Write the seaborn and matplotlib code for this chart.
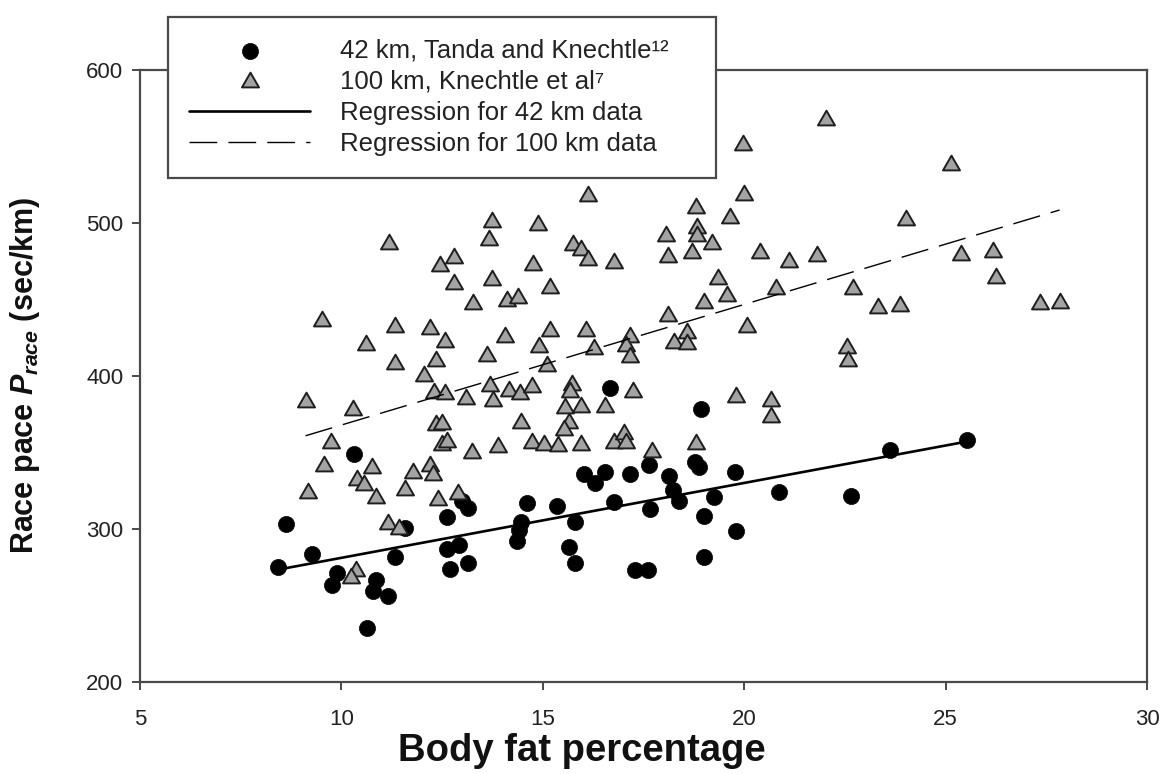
import numpy as np
import pandas as pd
import matplotlib
matplotlib.use("Agg")
import matplotlib.pyplot as plt
from matplotlib.path import Path
import seaborn as sns

# Marathon (42 km) runners: body fat (%) and race pace (sec/km)
fat_42 = [8.43, 8.62, 9.26, 10.32, 9.88, 9.76, 10.86, 10.79, 11.16, 10.64,
          11.33, 11.59, 12.63, 12.99, 13.14, 12.61, 12.92, 12.69, 13.15, 16.66,
          18.92, 14.61, 15.35, 14.47, 14.40, 14.35, 15.79, 15.65, 15.79, 16.02,
          16.29, 16.54, 17.16, 17.63, 16.76, 17.66, 18.13, 18.23, 18.37, 17.28,
          17.61, 18.77, 18.87, 19.24, 19.01, 19.00, 19.76, 19.79, 20.86, 22.64,
          23.63, 25.53]
pace_42 = [274.8, 303.1, 283.5, 348.6, 270.8, 263.2, 266.5, 259.3, 256.0, 234.9,
           281.7, 300.3, 307.8, 318.1, 313.5, 286.7, 289.3, 273.5, 277.6, 392.0,
           378.2, 317.1, 314.8, 304.6, 299.2, 292.0, 304.6, 287.8, 277.4, 335.8,
           329.7, 337.3, 335.8, 341.6, 317.5, 313.1, 334.6, 325.3, 318.4, 273.0,
           273.0, 343.6, 340.1, 320.5, 308.6, 281.7, 337.3, 298.8, 324.3, 321.4,
           351.4, 358.0]

# 100 km ultra-marathon runners: body fat (%) and race pace (sec/km)
fat_100 = [11.19, 12.44, 12.80, 12.79, 13.26, 9.52, 11.33, 12.20, 12.56, 10.62,
           11.32, 12.35, 12.04, 9.11, 10.29, 12.29, 12.58, 13.09, 12.34, 12.49,
           12.49, 12.61, 13.23, 9.74, 9.58, 10.77, 10.38, 10.56, 10.86, 9.16,
           11.77, 12.20, 12.27, 11.59, 12.40, 12.90, 11.16, 11.43, 10.37, 10.24,
           16.12, 13.73, 13.67, 14.87, 15.76, 15.94, 16.11, 16.76, 14.76, 18.07,
           18.11, 13.73, 15.18, 14.11, 14.39, 14.06, 15.17, 16.07, 14.91, 16.26,
           13.61, 15.11, 17.17, 17.07, 17.17, 18.11, 18.25, 18.57, 18.58, 13.69,
           14.17, 14.43, 14.73, 15.72, 15.67, 17.24, 15.55, 15.96, 16.54, 14.47,
           15.64, 15.53, 13.89, 14.72, 15.02, 15.38, 15.96, 16.76, 17.01, 17.07,
           17.70, 18.80, 13.76, 19.96, 19.99, 18.81, 19.65, 18.82, 18.82, 19.19,
           18.70, 20.40, 21.12, 21.81, 19.35, 19.57, 19.00, 20.78, 22.70, 23.33,
           23.86, 20.06, 22.55, 22.58, 19.80, 20.67, 20.67, 22.03, 25.14, 24.01,
           25.39, 26.17, 26.24, 27.35, 27.83]
pace_100 = [485.8, 472.0, 476.7, 460.1, 446.9, 435.8, 432.0, 430.3, 422.2, 420.1,
            407.8, 409.4, 399.8, 383.0, 377.4, 388.9, 388.0, 384.6, 367.8, 368.6,
            354.7, 356.9, 349.5, 356.0, 341.0, 339.5, 331.6, 328.6, 320.2, 323.5,
            336.6, 340.8, 335.1, 325.5, 318.8, 322.7, 303.3, 299.6, 272.5, 268.1,
            517.5, 500.7, 488.7, 498.8, 485.4, 482.2, 475.4, 473.9, 472.5, 491.1,
            477.8, 462.5, 457.5, 448.7, 450.9, 425.2, 429.5, 428.9, 418.8, 417.5,
            412.7, 406.1, 425.3, 419.5, 412.2, 438.8, 421.6, 428.1, 420.9, 393.1,
            389.9, 387.9, 392.6, 393.9, 389.5, 389.2, 378.7, 379.7, 379.5, 368.9,
            369.4, 364.5, 353.4, 355.8, 354.7, 354.2, 355.0, 356.3, 361.8, 356.3,
            350.3, 355.4, 383.3, 551.1, 518.4, 509.4, 502.9, 496.3, 491.6, 486.1,
            480.2, 480.0, 474.5, 478.2, 463.0, 452.2, 447.7, 456.9, 456.5, 444.1,
            445.6, 432.0, 417.9, 409.7, 386.3, 383.7, 372.8, 567.1, 537.7, 501.8,
            478.9, 481.0, 463.7, 446.9, 447.7]

x_ticks = [5, 10, 15, 20, 25, 30]
y_ticks = [200, 300, 400, 500, 600]

labels = [
    "42 km, Tanda and Knechtle\u00b9\u00b2",
    "100 km, Knechtle et al\u2077",
    "Regression for 42 km data",
    "Regression for 100 km data",
]

df42 = pd.DataFrame({"fat": fat_42, "pace": pace_42})
df100 = pd.DataFrame({"fat": fat_100, "pace": pace_100})

sns.set_theme(style="ticks")
plt.rcParams["font.family"] = ["Liberation Sans", "DejaVu Sans"]
plt.rcParams["mathtext.fontset"] = "custom"
plt.rcParams["mathtext.rm"] = "Liberation Sans"
plt.rcParams["mathtext.it"] = "Liberation Sans:italic:bold"
plt.rcParams["mathtext.bf"] = "Liberation Sans:bold"

W, H = 1166, 774
fig = plt.figure(figsize=(W / 100, H / 100), dpi=100)
fig.patch.set_facecolor("white")
ax = fig.add_axes([140 / W, 1 - 681.7 / H, 1007 / W, 612 / H])

# equilateral triangle marker
s3 = np.sqrt(3)
tri = Path([(0, 2 / s3), (-1, -1 / s3), (1, -1 / s3), (0, 2 / s3)], closed=True)

sns.scatterplot(data=df42, x="fat", y="pace", ax=ax, marker="o", s=135,
                color="black", edgecolor="black", linewidth=0.5,
                label=labels[0], legend=False, zorder=2)
sns.scatterplot(data=df100, x="fat", y="pace", ax=ax, marker=tri, s=200,
                color="#a3a3a3", edgecolor="#1e1e1e", linewidth=1.4,
                label=labels[1], legend=False, zorder=3)

sns.regplot(data=df42, x="fat", y="pace", ax=ax, scatter=False, ci=None,
            truncate=True, color="black", label=labels[2],
            line_kws=dict(lw=1.9, zorder=4))
sns.regplot(data=df100, x="fat", y="pace", ax=ax, scatter=False, ci=None,
            truncate=True, color="black", label=labels[3],
            line_kws=dict(lw=1.0, dashes=(20, 8), zorder=4))

ax.set_xlim(x_ticks[0], x_ticks[-1])
ax.set_ylim(y_ticks[0], y_ticks[-1])
ax.set_xticks(x_ticks)
ax.set_yticks(y_ticks)

frame_col = "#4a4a4a"
for sp in ax.spines.values():
    sp.set_visible(True)
    sp.set_color(frame_col)
    sp.set_linewidth(1.6)
ax.tick_params(axis="both", direction="out", length=6, width=1.4,
               color=frame_col, labelsize=16, labelcolor="#222222")
ax.tick_params(axis="x", pad=14)
ax.tick_params(axis="y", pad=6)

ax.set_xlabel("Body fat percentage", fontsize=27.5, fontweight="bold",
              color="#111111", va="center")
ax.xaxis.set_label_coords(0.439, -0.114)
ax.set_ylabel("Race pace $P_{race}$ (sec/km)", fontsize=22, fontweight="bold",
              color="#111111", va="center")
ax.yaxis.set_label_coords(-0.114, 0.5)

handles, labs = ax.get_legend_handles_labels()
order = [labs.index(l) for l in labels]
leg = ax.legend([handles[i] for i in order], [labs[i] for i in order],
                loc="upper left", mode="expand",
                bbox_to_anchor=(168 / W, 1 - 174 / H, 548 / W, (174 - 17.3) / H),
                bbox_transform=fig.transFigure, borderaxespad=0,
                fontsize=18.5, handlelength=4.7, handletextpad=1.15,
                borderpad=0.83, labelspacing=0.28, fancybox=False,
                framealpha=1, edgecolor=frame_col)
leg.get_frame().set_linewidth(1.6)
for t in leg.get_texts():
    t.set_color("#222222")

fig.savefig("out.png", dpi=100)
